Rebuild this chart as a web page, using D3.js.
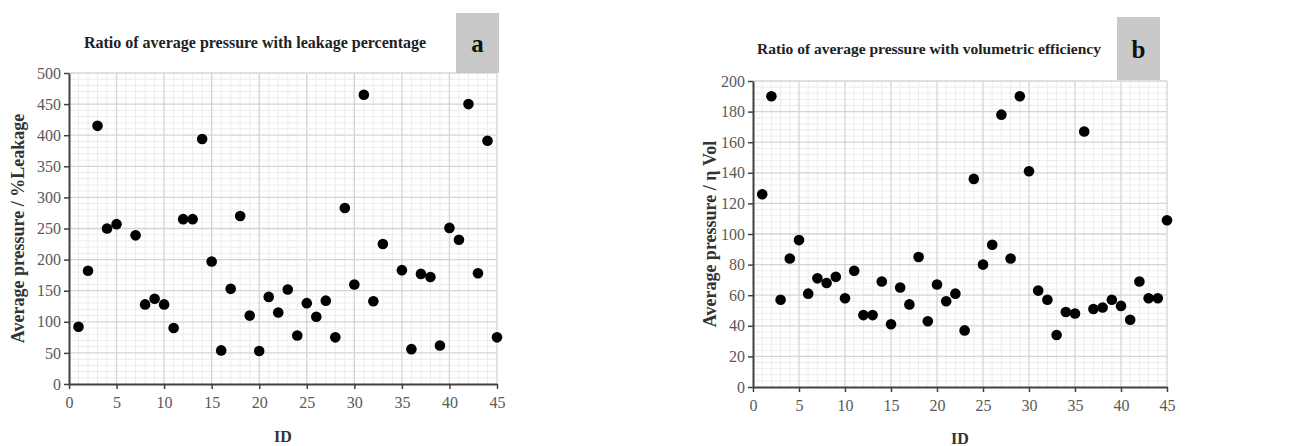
<!DOCTYPE html>
<html>
<head>
<meta charset="utf-8">
<script src="https://cdn.jsdelivr.net/npm/d3@7"></script>
<style>
  body { margin: 0; background: #fff; }
  svg { display: block; }
</style>
</head>
<body>
<div id="wrapper"></div>
<script>
// panel a: average pressure / %leakage
var idsA = [1,2,3,4,5,7,8,9,10,11,12,13,14,15,16,17,18,19,20,21,22,23,24,25,26,27,28,29,30,31,32,33,35,36,37,38,39,40,41,42,43,44,45];
var valsA = [92,182,415,250,257,239,128,137,128,90,265,265,394,197,54,153,270,110,53,140,115,152,78,130,108,134,75,283,160,465,133,225,183,56,177,172,62,251,232,450,178,391,75];
var ticksA = [0,50,100,150,200,250,300,350,400,450,500];

// panel b: average pressure / volumetric efficiency
var idsB = d3.range(1, 46);
var valsB = [126,190,57,84,96,61,71,68,72,58,76,47,47,69,41,65,54,85,43,67,56,61,37,136,80,93,178,84,190,141,63,57,34,49,48,167,51,52,57,53,44,69,58,58,109];
var ticksB = [0,20,40,60,80,100,120,140,160,180,200];

var xTicks = [0,5,10,15,20,25,30,35,40,45];
var serif = '"Liberation Serif", "DejaVu Serif", "Times New Roman", serif';

var svg = d3.select('#wrapper').append('svg')
  .attr('width', 1316).attr('height', 446);

function panel(cfg) {
  var x = d3.scaleLinear().domain([0, 45]).range([cfg.x0, cfg.x1]);
  var y = d3.scaleLinear().domain([0, cfg.ymax]).range([cfg.y0, cfg.y1]);
  var g = svg.append('g');

  // minor grid
  var minorX = d3.range(1, 45).filter(function(d){ return d % 5 !== 0; });
  var minorY = d3.range(0, cfg.ymax, cfg.ymax / 50).filter(function(d, i){ return i % 5 !== 0; });
  g.selectAll('.mx').data(minorX).enter().append('line')
    .attr('x1', x).attr('x2', x).attr('y1', y(0)).attr('y2', y(cfg.ymax))
    .style('stroke', '#ececec').style('stroke-width', 1);
  g.selectAll('.my').data(minorY).enter().append('line')
    .attr('y1', y).attr('y2', y).attr('x1', x(0)).attr('x2', x(45))
    .style('stroke', '#ececec').style('stroke-width', 1);
  // major grid
  g.selectAll('.Mx').data(xTicks.slice(1)).enter().append('line')
    .attr('x1', x).attr('x2', x).attr('y1', y(0)).attr('y2', y(cfg.ymax))
    .style('stroke', '#d4d4d4').style('stroke-width', 1.3);
  g.selectAll('.My').data(cfg.ticks.slice(1)).enter().append('line')
    .attr('y1', y).attr('y2', y).attr('x1', x(0)).attr('x2', x(45))
    .style('stroke', '#d4d4d4').style('stroke-width', 1.3);

  // axes
  var ax = g.append('g').attr('transform', 'translate(0,' + cfg.y0 + ')')
    .call(d3.axisBottom(x).tickValues(xTicks).tickSize(5).tickSizeOuter(0).tickPadding(8));
  var ay = g.append('g').attr('transform', 'translate(' + cfg.x0 + ',0)')
    .call(d3.axisLeft(y).tickValues(cfg.ticks).tickSize(5).tickSizeOuter(0).tickPadding(3));
  [ax, ay].forEach(function(a){
    a.attr('font-family', serif).attr('font-size', 16);
    a.select('.domain').style('stroke', '#404040').style('stroke-width', 2);
    a.selectAll('.tick line').style('stroke', '#404040').style('stroke-width', 1.5);
    a.selectAll('.tick text').style('font-family', serif).style('font-size', '16px').style('fill', '#595959');
  });

  // points
  g.selectAll('circle').data(cfg.ids).enter().append('circle')
    .attr('cx', function(d){ return x(d); })
    .attr('cy', function(d, i){ return y(cfg.vals[i]); })
    .attr('r', 5.3)
    .style('fill', '#000');

  // title
  g.append('text').attr('x', cfg.tx).attr('y', cfg.ty)
    .attr('text-anchor', 'middle')
    .style('font-family', serif).style('font-weight', 'bold')
    .style('font-size', cfg.tsize + 'px').style('fill', '#222')
    .text(cfg.title);

  // letter box
  g.append('rect').attr('x', cfg.bx).attr('y', cfg.by).attr('width', cfg.bw).attr('height', cfg.bh)
    .style('fill', '#c9c9c9');
  g.append('text').attr('x', cfg.bx + cfg.bw / 2).attr('y', cfg.by + cfg.bh / 2 + 9)
    .attr('text-anchor', 'middle')
    .style('font-family', serif).style('font-weight', 'bold')
    .style('font-size', '25px').style('fill', '#111')
    .text(cfg.letter);

  // axis labels
  g.append('text').attr('x', (cfg.x0 + cfg.x1) / 2).attr('y', cfg.xly)
    .attr('text-anchor', 'middle')
    .style('font-family', serif).style('font-weight', 'bold')
    .style('font-size', '16px').style('fill', '#333')
    .text('ID');
  g.append('text')
    .attr('transform', 'translate(' + cfg.ylx + ',' + ((cfg.y0 + cfg.y1) / 2) + ') rotate(-90)')
    .attr('text-anchor', 'middle')
    .style('font-family', serif).style('font-weight', 'bold')
    .style('font-size', '18px').style('fill', '#333')
    .text(cfg.ylabel);
}

panel({
  ids: idsA, vals: valsA, ticks: ticksA, ymax: 500,
  x0: 69, x1: 497, y0: 384, y1: 73,
  title: 'Ratio of average pressure with leakage percentage', tx: 255, ty: 48, tsize: 16,
  letter: 'a', bx: 456, by: 13, bw: 43, bh: 60,
  xly: 442, ylx: 24, ylabel: 'Average pressure / %Leakage'
});

panel({
  ids: idsB, vals: valsB, ticks: ticksB, ymax: 200,
  x0: 753, x1: 1167, y0: 387, y1: 81,
  title: 'Ratio of average pressure with volumetric efficiency', tx: 929, ty: 54, tsize: 15.5,
  letter: 'b', bx: 1117, by: 17, bw: 43, bh: 63,
  xly: 444, ylx: 716, ylabel: 'Average pressure / \u03b7 Vol'
});
</script>
</body>
</html>
